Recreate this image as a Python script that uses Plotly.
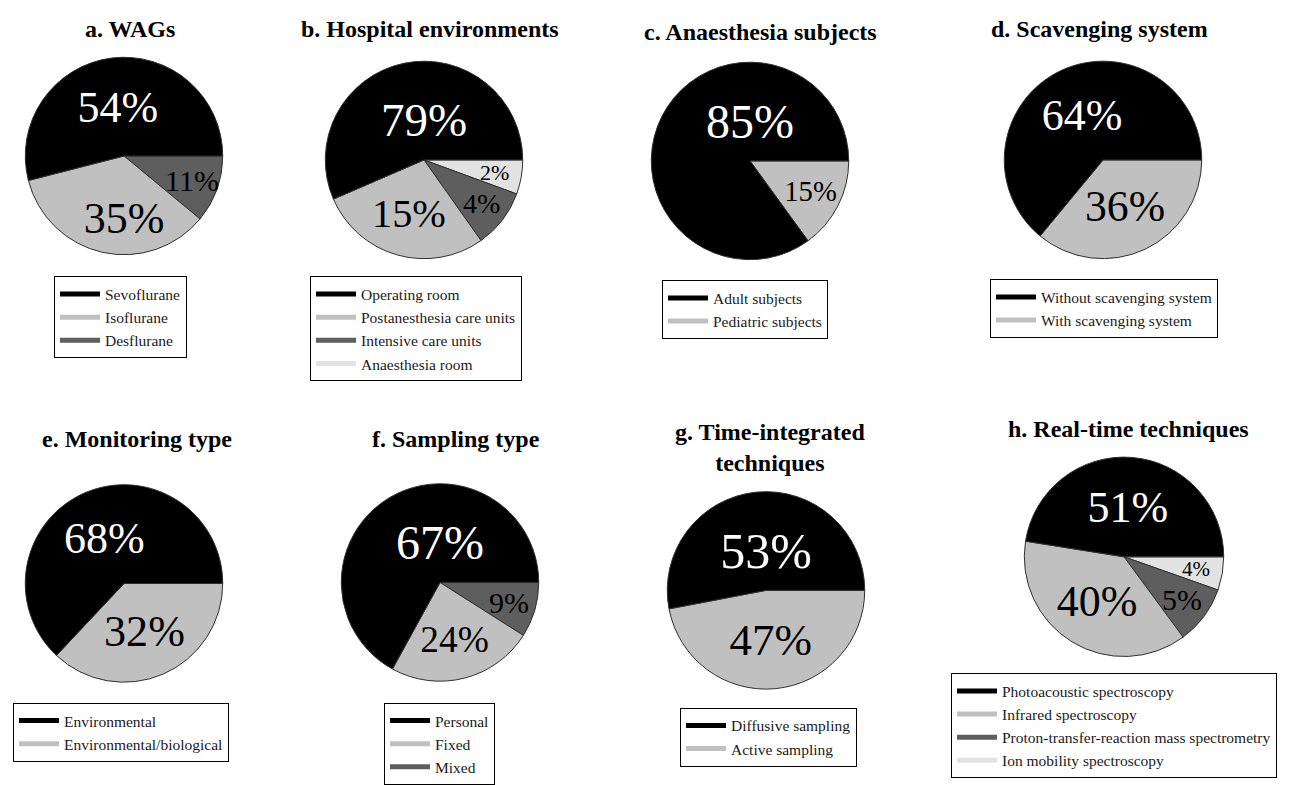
import math
import plotly.graph_objects as go

W, H = 1316, 785

# ---------------- data ----------------
a_labels = ["Sevoflurane", "Isoflurane", "Desflurane"]
a_pct = [54, 35, 11]
a_drawn = [54, 35, 11]

b_labels = ["Operating room", "Postanesthesia care units", "Intensive care units", "Anaesthesia room"]
b_pct = [79, 15, 4, 2]
b_drawn = [56.5, 28.3, 9.6, 5.6]

c_labels = ["Adult subjects", "Pediatric subjects"]
c_pct = [85, 15]
c_drawn = [85, 15]

d_labels = ["Without scavenging system", "With scavenging system"]
d_pct = [64, 36]
d_drawn = [64, 36]

e_labels = ["Environmental", "Environmental/biological"]
e_pct = [68, 32]
e_drawn = [63, 37]

f_labels = ["Personal", "Fixed", "Mixed"]
f_pct = [67, 24, 9]
f_drawn = [67, 24, 9]

g_labels = ["Diffusive sampling", "Active sampling"]
g_pct = [53, 47]
g_drawn = [53, 47]

h_labels = ["Photoacoustic spectroscopy", "Infrared spectroscopy",
            "Proton-transfer-reaction mass spectrometry", "Ion mobility spectroscopy"]
h_pct = [51, 40, 5, 4]
h_drawn = [47.5, 37.6, 9.5, 5.4]

titles = ["a. WAGs", "b. Hospital environments", "c. Anaesthesia subjects", "d. Scavenging system",
          "e. Monitoring type", "f. Sampling type", "g. Time-integrated<br>techniques",
          "h. Real-time techniques"]

# ---------------- style ----------------
BLACK, GRAY, DARK, LIGHT = "#000000", "#c0c0c0", "#5e5e5e", "#e2e2e2"
SERIF = "Liberation Serif, Times New Roman, serif"
SMALL = 12          # slices below this size get their label as an annotation (no shrinking)
SMALL_RAD = 0.72    # radial position of those labels (fraction of radius)

panels = [
    dict(lab=a_labels, pct=a_pct, drawn=a_drawn, col=[BLACK, GRAY, DARK], fs=[44, 44, 30],
         c=(124, 158), r=100, t=(130, 29), lg=(54, 280)),
    dict(lab=b_labels, pct=b_pct, drawn=b_drawn, col=[BLACK, GRAY, DARK, LIGHT], fs=[47, 45, 28, 22],
         c=(424, 162), r=100, t=(430, 29), lg=(310, 280)),
    dict(lab=c_labels, pct=c_pct, drawn=c_drawn, col=[BLACK, GRAY], fs=[48, 40],
         c=(750, 163), r=100, t=(760, 32), lg=(662, 284)),
    dict(lab=d_labels, pct=d_pct, drawn=d_drawn, col=[BLACK, GRAY], fs=[44, 44],
         c=(1103, 162), r=100, t=(1099, 29), lg=(990, 283)),
    dict(lab=e_labels, pct=e_pct, drawn=e_drawn, col=[BLACK, GRAY], fs=[44, 46],
         c=(124, 591), r=100, t=(137, 445), lg=(13, 712)),
    dict(lab=f_labels, pct=f_pct, drawn=f_drawn, col=[BLACK, GRAY, DARK], fs=[48, 44, 30],
         c=(440, 590), r=100, t=(456, 445), lg=(384, 712)),
    dict(lab=g_labels, pct=g_pct, drawn=g_drawn, col=[BLACK, GRAY], fs=[50, 45],
         c=(766, 598), r=100, t=(770, 453), lg=(680, 717)),
    dict(lab=h_labels, pct=h_pct, drawn=h_drawn, col=[BLACK, GRAY, DARK, LIGHT], fs=[44, 44, 30, 21],
         c=(1124, 564), r=101, t=(1128, 435), lg=(951, 682)),
]

fig = go.Figure()
annotations = []
layout_legends = {}
rev = lambda seq: list(seq)[::-1]

for i, p in enumerate(panels):
    lname = "legend" if i == 0 else f"legend{i+1}"
    cx, cy = p["c"]
    r = p["r"]
    txtcol = ["white" if c == BLACK else "black" for c in p["col"]]
    texts = [f"{v}%" for v in p["pct"]]
    tpos = ["none" if v < SMALL else "inside" for v in p["drawn"]]
    tf = dict(family=SERIF, size=rev(p["fs"]), color=rev(txtcol), weight="normal")
    # slices drawn clockwise from 3 o'clock in reverse order == counter-clockwise in data order
    fig.add_trace(go.Pie(
        labels=rev(p["lab"]), values=rev(p["drawn"]),
        text=rev(texts), textinfo="text",
        textposition=rev(tpos), insidetextorientation="horizontal",
        textfont=tf, insidetextfont=tf,
        marker=dict(colors=rev(p["col"]), line=dict(color="#303030", width=1)),
        sort=False, direction="clockwise", rotation=90,
        domain=dict(x=[(cx - r) / W, (cx + r) / W], y=[1 - (cy + r) / H, 1 - (cy - r) / H]),
        showlegend=False, hoverinfo="label+text",
    ))
    # labels of thin slices: placed on the slice bisector, at full size
    total = sum(p["drawn"])
    cum = 0.0
    for v, t, fs, tc in zip(p["drawn"], texts, p["fs"], txtcol):
        mid = 2 * math.pi * (cum + v / 2) / total
        cum += v
        if v >= SMALL:
            continue
        px = cx + SMALL_RAD * r * math.cos(mid)
        py = cy - SMALL_RAD * r * math.sin(mid)
        annotations.append(dict(
            text=t, x=px / W, y=1 - py / H, xref="paper", yref="paper",
            xanchor="center", yanchor="middle", showarrow=False,
            font=dict(family=SERIF, size=fs, color=tc, weight="normal"),
        ))
    # legend entries (bar-like swatches)
    for lab, col in zip(p["lab"], p["col"]):
        fig.add_trace(go.Scatter(
            x=[None], y=[None], mode="lines", name=lab,
            line=dict(color=col, width=5), legend=lname, showlegend=True,
        ))
    lx, ly = p["lg"]
    layout_legends[lname] = dict(
        x=lx / W, y=1 - ly / H, xanchor="left", yanchor="top",
        bgcolor="white", bordercolor="#000000", borderwidth=1,
        font=dict(family=SERIF, size=15.5, color="#1a1a1a"),
        itemwidth=40, tracegroupgap=0, itemclick=False, itemdoubleclick=False,
    )
    tx, ty = p["t"]
    annotations.append(dict(
        text=titles[i], x=tx / W, y=1 - ty / H, xref="paper", yref="paper",
        xanchor="center", yanchor="middle", showarrow=False,
        font=dict(family=SERIF, size=24, color="#000000", weight="bold"),
    ))

fig.update_layout(
    width=W, height=H,
    margin=dict(l=0, r=0, t=0, b=0),
    paper_bgcolor="white", plot_bgcolor="white",
    font=dict(family=SERIF),
    xaxis=dict(visible=False), yaxis=dict(visible=False),
    annotations=annotations,
    **layout_legends,
)

fig.write_html("out.html")
